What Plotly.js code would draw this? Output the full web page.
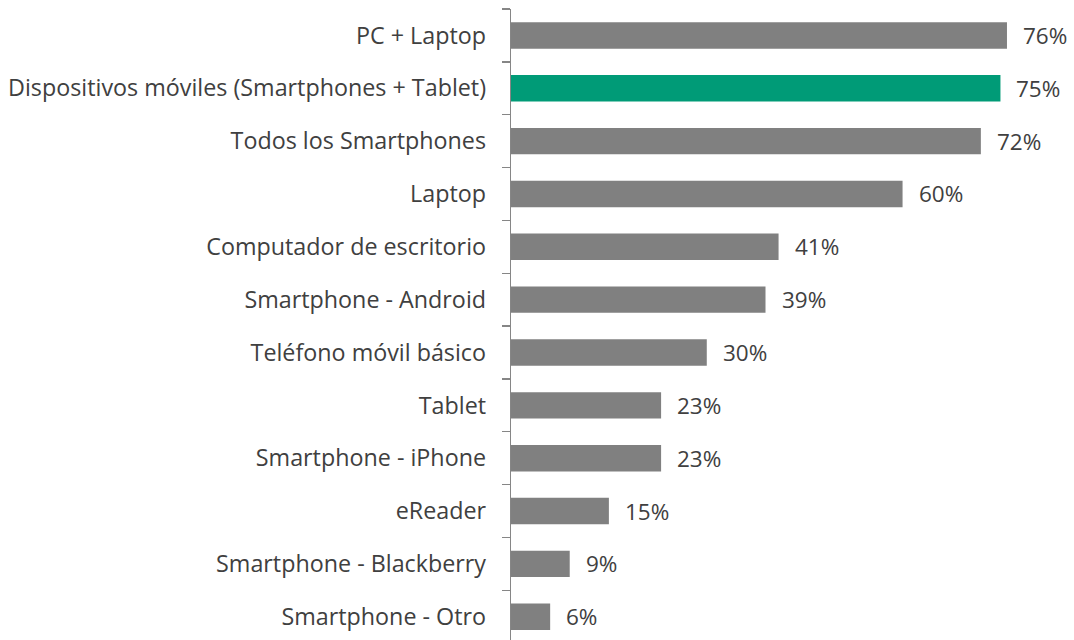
<!DOCTYPE html>
<html>
<head>
<meta charset="utf-8">
<script src="https://cdn.plot.ly/plotly-3.0.1.min.js"></script>
<style>html,body{margin:0;padding:0;background:#fff;}#chart{width:1074px;height:640px;}</style>
</head>
<body>
<div id="chart"></div>
<script>
const categories = [
  "PC + Laptop",
  "Dispositivos móviles (Smartphones + Tablet)",
  "Todos los Smartphones",
  "Laptop",
  "Computador de escritorio",
  "Smartphone - Android",
  "Teléfono móvil básico",
  "Tablet",
  "Smartphone - iPhone",
  "eReader",
  "Smartphone - Blackberry",
  "Smartphone - Otro"
];
const values = [76, 75, 72, 60, 41, 39, 30, 23, 23, 15, 9, 6];
const labels = ["76%", "75%", "72%", "60%", "41%", "39%", "30%", "23%", "23%", "15%", "9%", "6%"];
const highlight = "Dispositivos móviles (Smartphones + Tablet)";

const gray = "#808080", green = "#009B77";
const colors = categories.map(c => c === highlight ? green : gray);
const font = "Open Sans, sans-serif";

const trace = {
  type: "bar",
  orientation: "h",
  x: values,
  y: categories,
  marker: {color: colors},
  width: 0.5,
  hoverinfo: "none"
};

const annotations = categories.map((c, i) => ({
  x: values[i], y: c, xref: "x", yref: "y",
  text: labels[i], showarrow: false, xanchor: "left", xshift: 14,
  font: {family: font, size: 22.5, color: "#404040"}
}));

const layout = {
  width: 1074, height: 640,
  margin: {l: 511, r: 0, t: 9, b: 0},
  paper_bgcolor: "#fff", plot_bgcolor: "#fff",
  showlegend: false,
  bargap: 0.5,
  xaxis: {range: [0, 86.27], visible: false, fixedrange: true},
  yaxis: {
    type: "category",
    range: [11.44, -0.5],
    showline: true, linecolor: "#868686", linewidth: 1.3,
    ticks: "outside", tickson: "boundaries", ticklen: 8, tickcolor: "#868686", tickwidth: 1.3,
    showgrid: false, zeroline: false,
    tickfont: {family: font, size: 23.3, color: "#404040"},
    ticklabelstandoff: 19
  },
  annotations: annotations
};

Plotly.newPlot("chart", [trace], layout, {displayModeBar: false, staticPlot: true});
</script>
</body>
</html>
